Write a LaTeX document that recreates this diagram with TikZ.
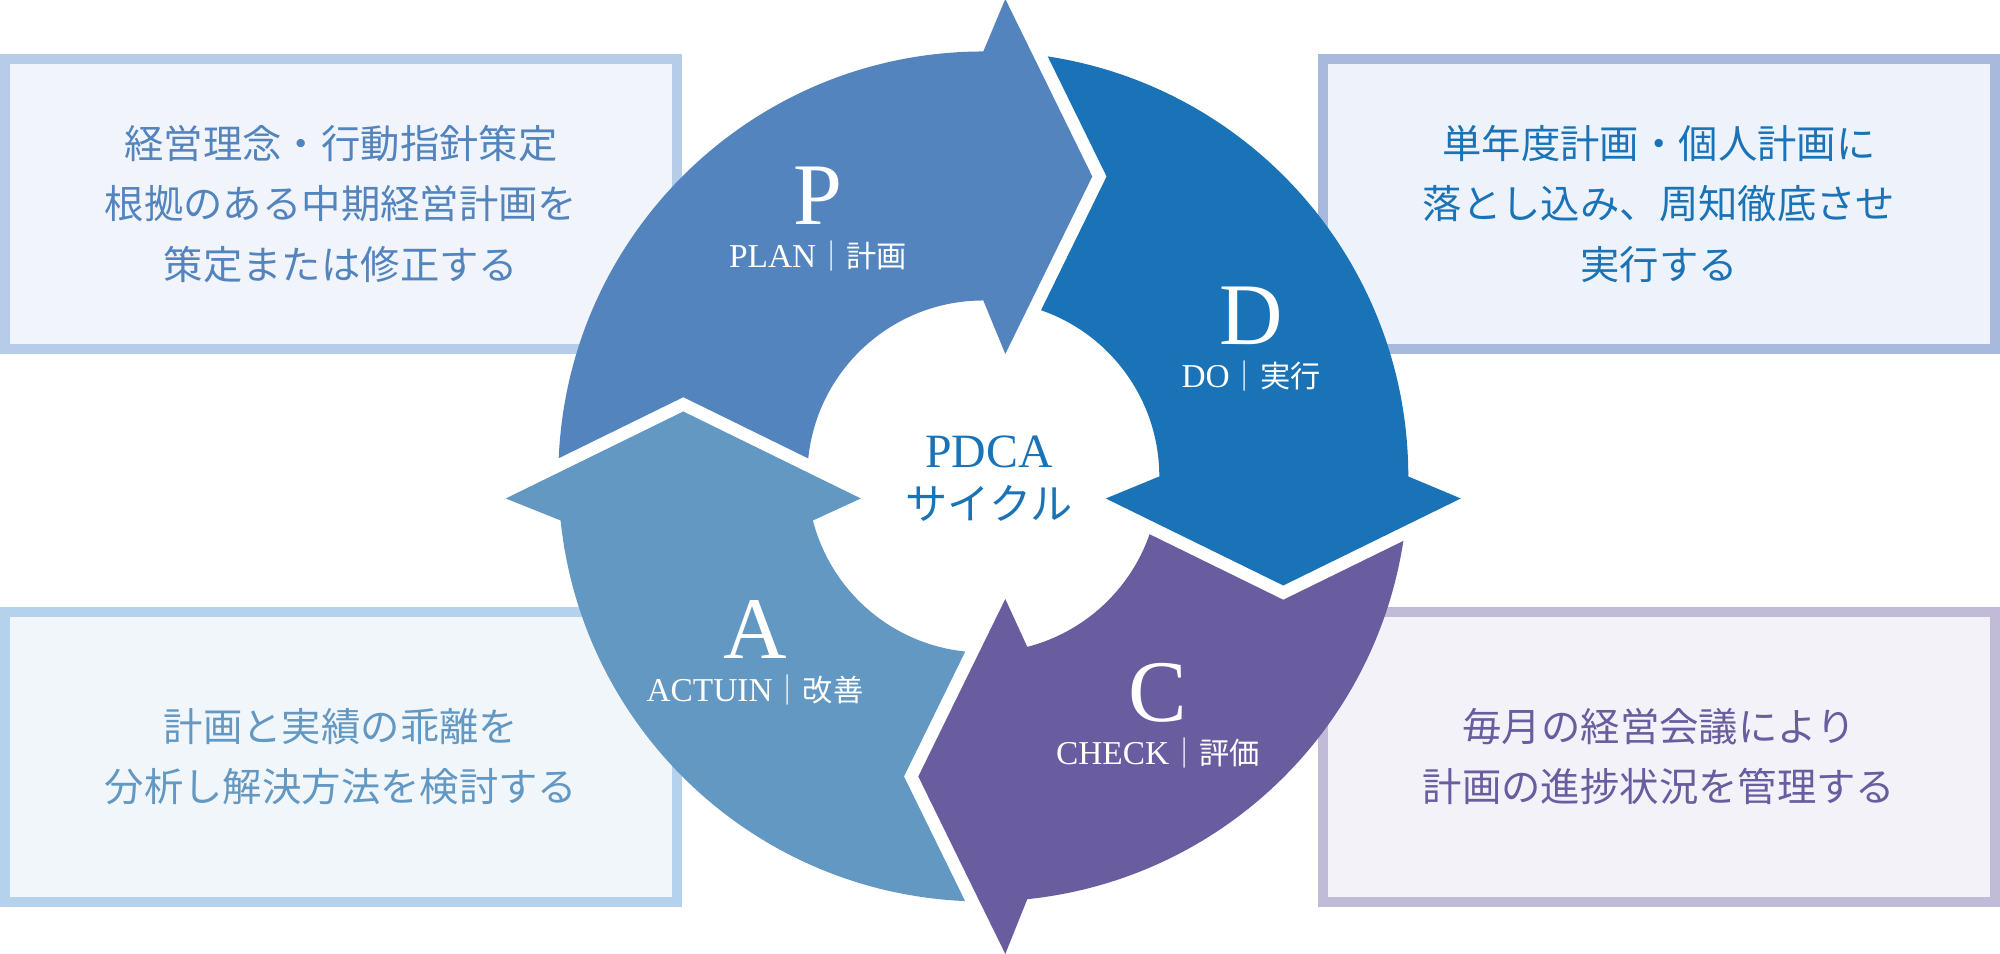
\documentclass[tikz,border=0pt]{standalone}
\usepackage{fontspec}
\setmainfont{Liberation Serif}
\newfontfamily\jpfont{Noto Sans CJK JP}
\usepackage{xcolor}
\definecolor{pdplan}{RGB}{83,132,190}
\definecolor{pddo}{RGB}{26,115,182}
\definecolor{pdcheck}{RGB}{105,92,159}
\definecolor{pdact}{RGB}{99,152,194}
\definecolor{planedge}{RGB}{183,204,233}
\definecolor{planfill}{RGB}{241,245,251}
\definecolor{doedge}{RGB}{167,185,221}
\definecolor{dofill}{RGB}{238,242,250}
\definecolor{actedge}{RGB}{180,210,236}
\definecolor{actfill}{RGB}{241,246,251}
\definecolor{checkedge}{RGB}{193,187,216}
\definecolor{checkfill}{RGB}{243,242,248}
\usepackage{tikz}

\begin{document}
\begin{tikzpicture}[
  infobox/.style={draw, line width=1mm, minimum width=6.72cm, minimum height=2.9cm,
    inner sep=0pt, align=center, font=\jpfont\fontsize{11.2}{17.1}\selectfont},
  bigletter/.style={white, anchor=base, inner sep=0pt, font=\fontsize{25}{25}\selectfont},
  sublabel/.style={white, anchor=base, inner sep=0pt, font=\fontsize{9.5}{11}\selectfont},
  jpsmall/.style={font=\jpfont\fontsize{8.6}{10}\selectfont}
]
\useasboundingbox (0,0) rectangle (20,9.54);
\fill[white] (0,0) rectangle (20,9.54);

% === Explanation boxes (behind the ring) ===
\node[infobox, draw=planedge, fill=planfill, text=pdplan] (planbox) at (3.41,7.50)
  {経営理念・行動指針策定\\根拠のある中期経営計画を\\策定または修正する};
\node[infobox, draw=doedge, fill=dofill, text=pddo] (dobox) at (16.59,7.50)
  {単年度計画・個人計画に\\落とし込み、周知徹底させ\\実行する};
\node[infobox, draw=actedge, fill=actfill, text=pdact] (actbox) at (3.41,1.97)
  {計画と実績の乖離を\\分析し解決方法を検討する};
\node[infobox, draw=checkedge, fill=checkfill, text=pdcheck] (checkbox) at (16.59,1.97)
  {毎月の経営会議により\\計画の進捗状況を管理する};

% === PDCA ring: four arrows, centre of ring at (9.833,4.775) ===
\begin{scope}[shift={(9.833,4.775)}]
% Plan (top)
\fill[pdplan] (177.54:4.25) arc[start angle=177.54, end angle=90, radius=4.25]
  -- (0.22,4.775) -- (1.09,3) -- (0.22,1.225) -- (90:1.76)
  arc[start angle=90, end angle=174.11, radius=1.76] -- (165.19:3.103) -- cycle;
% Do (right)
\begin{scope}[rotate=-90]
\fill[pddo] (171.28:4.25) arc[start angle=171.28, end angle=90, radius=4.25]
  -- (0.22,4.775) -- (1.09,3) -- (0.22,1.225) -- (90:1.76)
  arc[start angle=90, end angle=160.85, radius=1.76] -- (157.66:3.2435) -- cycle;
\end{scope}
% Check (bottom)
\begin{scope}[rotate=180]
\fill[pdcheck] (171.28:4.25) arc[start angle=171.28, end angle=95.94, radius=4.25]
  -- (-0.22,4.775) -- (0.65,3) -- (-0.22,1.225) -- (104.48:1.76)
  arc[start angle=104.48, end angle=160.85, radius=1.76] -- (157.66:3.2435) -- cycle;
\end{scope}
% Action (left)
\begin{scope}[rotate=90]
\fill[pdact] (177.54:4.25) arc[start angle=177.54, end angle=95.94, radius=4.25]
  -- (-0.22,4.775) -- (0.65,3) -- (-0.22,1.225) -- (104.48:1.76)
  arc[start angle=104.48, end angle=174.11, radius=1.76] -- (165.19:3.103) -- cycle;
\end{scope}
\end{scope}

% === Letters and labels on the arrows ===
\node[bigletter] (pletter) at (8.18,7.29) {P};
\node[sublabel] (plabel) at (8.18,6.86) {PLAN{\jpfont\fontsize{8.6}{10}\selectfont ｜計画}};
\node[bigletter] (dletter) at (12.51,6.09) {D};
\node[sublabel] (dlabel) at (12.51,5.66) {DO{\jpfont\fontsize{8.6}{10}\selectfont ｜実行}};
\node[bigletter] (cletter) at (11.58,2.32) {C};
\node[sublabel] (clabel) at (11.58,1.89) {CHECK{\jpfont\fontsize{8.6}{10}\selectfont ｜評価}};
\node[bigletter] (aletter) at (7.55,2.95) {A};
\node[sublabel] (alabel) at (7.55,2.52) {ACTUIN{\jpfont\fontsize{8.6}{10}\selectfont ｜改善}};

% === Centre ===
\node[pddo, anchor=base, inner sep=0pt, font=\fontsize{13.6}{14}\selectfont] (pdca) at (9.89,4.86) {PDCA};
\node[pddo, inner sep=0pt, font=\jpfont\fontsize{12}{13}\selectfont] (cycle) at (9.89,4.51) {サイクル};

\end{tikzpicture}
\end{document}
